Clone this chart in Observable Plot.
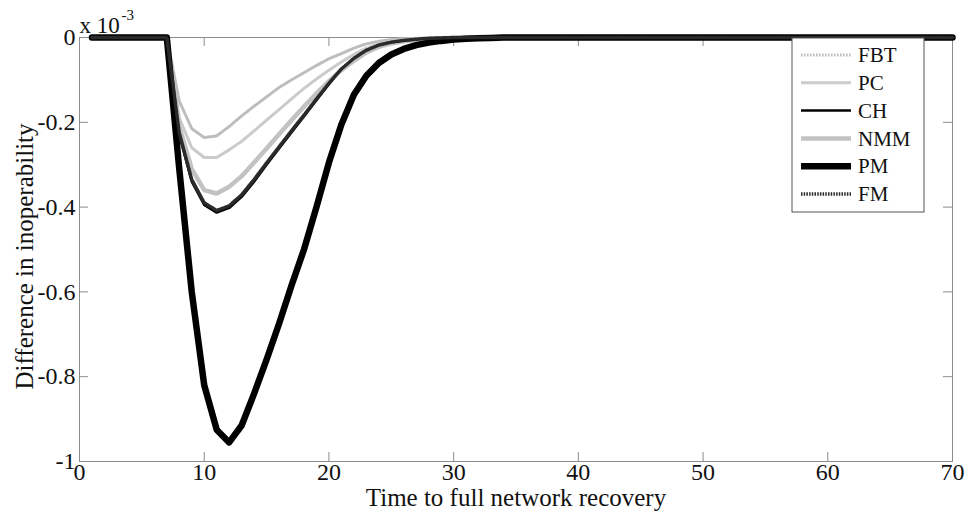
<!DOCTYPE html>
<html>
<head>
<meta charset="utf-8">
<script src="https://cdn.jsdelivr.net/npm/d3@7"></script>
<script src="https://cdn.jsdelivr.net/npm/@observablehq/plot@0.6"></script>
<style>
  html, body { margin: 0; padding: 0; background: #fff; }
  #chart { width: 969px; height: 516px; }
</style>
</head>
<body>
<div id="chart"></div>
<script>
// ---- data (values in units of 10^-3) ----
const time = [
  1, 2, 3, 4, 5, 6, 7, 8, 9, 10,
  11, 12, 13, 14, 15, 16, 17, 18, 19, 20,
  21, 22, 23, 24, 25, 26, 27, 28, 29, 30,
  31, 32, 33, 34, 35, 36, 37, 38, 39, 40,
  41, 42, 43, 44, 45, 46, 47, 48, 49, 50,
  51, 52, 53, 54, 55, 56, 57, 58, 59, 60,
  61, 62, 63, 64, 65, 66, 67, 68, 69, 70
];
const seriesNames = ["FBT", "PC", "CH", "NMM", "PM", "FM"];

const fbt = [
  0, 0, 0, 0, 0, 0, 0, -0.150, -0.215, -0.236,
  -0.232, -0.210, -0.185, -0.162, -0.140, -0.118, -0.100, -0.083, -0.066, -0.050,
  -0.038, -0.025, -0.015, -0.009, -0.005, -0.003, -0.002, -0.001, 0, 0,
  0, 0, 0, 0, 0, 0, 0, 0, 0, 0,
  0, 0, 0, 0, 0, 0, 0, 0, 0, 0,
  0, 0, 0, 0, 0, 0, 0, 0, 0, 0,
  0, 0, 0, 0, 0, 0, 0, 0, 0, 0
];
const pc = [
  0, 0, 0, 0, 0, 0, 0, -0.190, -0.260, -0.283,
  -0.283, -0.265, -0.245, -0.220, -0.195, -0.170, -0.145, -0.120, -0.098, -0.077,
  -0.058, -0.040, -0.025, -0.015, -0.009, -0.006, -0.004, -0.002, -0.001, 0,
  0, 0, 0, 0, 0, 0, 0, 0, 0, 0,
  0, 0, 0, 0, 0, 0, 0, 0, 0, 0,
  0, 0, 0, 0, 0, 0, 0, 0, 0, 0,
  0, 0, 0, 0, 0, 0, 0, 0, 0, 0
];
const ch = [
  0, 0, 0, 0, 0, 0, 0, -0.230, -0.340, -0.395,
  -0.413, -0.402, -0.376, -0.340, -0.300, -0.262, -0.224, -0.186, -0.148, -0.110,
  -0.075, -0.050, -0.030, -0.018, -0.011, -0.007, -0.004, -0.002, -0.001, 0,
  0, 0, 0, 0, 0, 0, 0, 0, 0, 0,
  0, 0, 0, 0, 0, 0, 0, 0, 0, 0,
  0, 0, 0, 0, 0, 0, 0, 0, 0, 0,
  0, 0, 0, 0, 0, 0, 0, 0, 0, 0
];
const nmm = [
  0, 0, 0, 0, 0, 0, 0, -0.210, -0.310, -0.360,
  -0.368, -0.352, -0.327, -0.295, -0.262, -0.228, -0.195, -0.163, -0.132, -0.103,
  -0.077, -0.055, -0.035, -0.022, -0.014, -0.009, -0.006, -0.004, -0.002, -0.001,
  0, 0, 0, 0, 0, 0, 0, 0, 0, 0,
  0, 0, 0, 0, 0, 0, 0, 0, 0, 0,
  0, 0, 0, 0, 0, 0, 0, 0, 0, 0,
  0, 0, 0, 0, 0, 0, 0, 0, 0, 0
];
const pm = [
  0, 0, 0, 0, 0, 0, 0, -0.310, -0.600, -0.820,
  -0.925, -0.955, -0.915, -0.840, -0.760, -0.675, -0.585, -0.500, -0.400, -0.295,
  -0.205, -0.135, -0.090, -0.060, -0.040, -0.027, -0.018, -0.012, -0.008, -0.005,
  -0.003, -0.002, -0.001, 0, 0, 0, 0, 0, 0, 0,
  0, 0, 0, 0, 0, 0, 0, 0, 0, 0,
  0, 0, 0, 0, 0, 0, 0, 0, 0, 0,
  0, 0, 0, 0, 0, 0, 0, 0, 0, 0
];
const fm = [
  0, 0, 0, 0, 0, 0, 0, -0.225, -0.335, -0.390,
  -0.408, -0.397, -0.371, -0.335, -0.296, -0.258, -0.220, -0.183, -0.145, -0.108,
  -0.074, -0.049, -0.030, -0.018, -0.011, -0.007, -0.004, -0.002, -0.001, 0,
  0, 0, 0, 0, 0, 0, 0, 0, 0, 0,
  0, 0, 0, 0, 0, 0, 0, 0, 0, 0,
  0, 0, 0, 0, 0, 0, 0, 0, 0, 0,
  0, 0, 0, 0, 0, 0, 0, 0, 0, 0
];

const xTicks = [0, 10, 20, 30, 40, 50, 60, 70];
const yTicks = [-1, -0.8, -0.6, -0.4, -0.2, 0];
const yTickLabels = ["-1", "-0.8", "-0.6", "-0.4", "-0.2", "0"];
const xLabel = "Time to full network recovery";
const yLabel = "Difference in inoperability";
const multiplierText = "x 10";
const exponentText = "-3";

// ---- styles ----
const FONT = "'Liberation Serif', 'Times New Roman', serif";
const AXIS = "#8c8c8c";
const lineStyles = {
  FBT: {stroke: "#bdbdbd", strokeWidth: 3, strokeDasharray: "1.6,1.4"},
  PC:  {stroke: "#cbcbcb", strokeWidth: 3},
  CH:  {stroke: "#000000", strokeWidth: 2.5},
  NMM: {stroke: "#c2c2c2", strokeWidth: 4.5},
  PM:  {stroke: "#000000", strokeWidth: 6.5},
  FM:  {stroke: "#2a2a2a", strokeWidth: 3.5, strokeDasharray: "1.5,1.2"}
};
const valuesByName = {FBT: fbt, PC: pc, CH: ch, NMM: nmm, PM: pm, FM: fm};
const rowsFor = name => time.map((t, i) => ({t, v: valuesByName[name][i], name}));

const W = 969, H = 516;
const mT = 37, mR = 17, mB = 55, mL = 79;
const frameW = W - mL - mR, frameH = H - mT - mB;
const tickLen = 9;

const plot = Plot.plot({
  width: W,
  height: H,
  marginTop: mT,
  marginRight: mR,
  marginBottom: mB,
  marginLeft: mL,
  style: {fontFamily: FONT, fontSize: "24px", background: "#fff", color: "#111"},
  x: {domain: [0, 70]},
  y: {domain: [-1, 0]},
  marks: [
    Plot.frame({stroke: AXIS}),
    Plot.tickX(xTicks, {x: d => d, insetTop: frameH - tickLen, stroke: AXIS}),
    Plot.tickX(xTicks, {x: d => d, insetBottom: frameH - tickLen, stroke: AXIS}),
    Plot.tickY(yTicks, {y: d => d, insetRight: frameW - tickLen, stroke: AXIS}),
    Plot.tickY(yTicks, {y: d => d, insetLeft: frameW - tickLen, stroke: AXIS}),
    Plot.axisX({ticks: xTicks, tickSize: 0, tickPadding: 1, label: null, fontSize: 24}),
    Plot.axisY({ticks: yTicks, tickSize: 0, tickPadding: 4, label: null, fontSize: 24,
      tickFormat: d => yTickLabels[yTicks.indexOf(d)]}),
    ...seriesNames.map(name => Plot.line(rowsFor(name), {x: "t", y: "v", ...lineStyles[name], strokeLinejoin: "round"})),
    Plot.text([xLabel], {text: d => d, frameAnchor: "bottom", textAnchor: "middle", lineAnchor: "middle", dy: 36, fontSize: 25}),
    Plot.text([yLabel], {text: d => d, frameAnchor: "left", textAnchor: "middle", lineAnchor: "middle", rotate: -90, dx: -55, dy: 7, fontSize: 25}),
    Plot.text([multiplierText], {text: d => d, frameAnchor: "top-left", textAnchor: "start", lineAnchor: "middle", dx: 0, dy: -12, fontSize: 23}),
    Plot.text([exponentText], {text: d => d, frameAnchor: "top-left", textAnchor: "start", lineAnchor: "middle", dx: 42, dy: -22, fontSize: 15})
  ]
});

// ---- legend (MATLAB-style box, top-right inside the axes) ----
const svg = d3.select(plot);
const lg = svg.append("g").attr("font-family", FONT).attr("font-size", 21)
  .attr("fill", "#111").attr("text-anchor", "start");
const lgX = 792, lgY = 38, lgW = 132, lgH = 174, rowH = 27.8;
lg.append("rect").attr("x", lgX).attr("y", lgY).attr("width", lgW).attr("height", lgH)
  .attr("fill", "#fff").attr("stroke", "#555").attr("stroke-width", 1);
seriesNames.forEach((name, i) => {
  const y = lgY + 17 + i * rowH;
  const s = lineStyles[name];
  lg.append("line").attr("x1", lgX + 9).attr("x2", lgX + 59).attr("y1", y).attr("y2", y)
    .attr("stroke", s.stroke).attr("stroke-width", s.strokeWidth)
    .attr("stroke-dasharray", s.strokeDasharray || null);
  lg.append("text").attr("x", lgX + 66).attr("y", y).attr("dy", "0.34em")
    .attr("text-anchor", "start").text(name);
});

document.getElementById("chart").appendChild(plot);
</script>
</body>
</html>
